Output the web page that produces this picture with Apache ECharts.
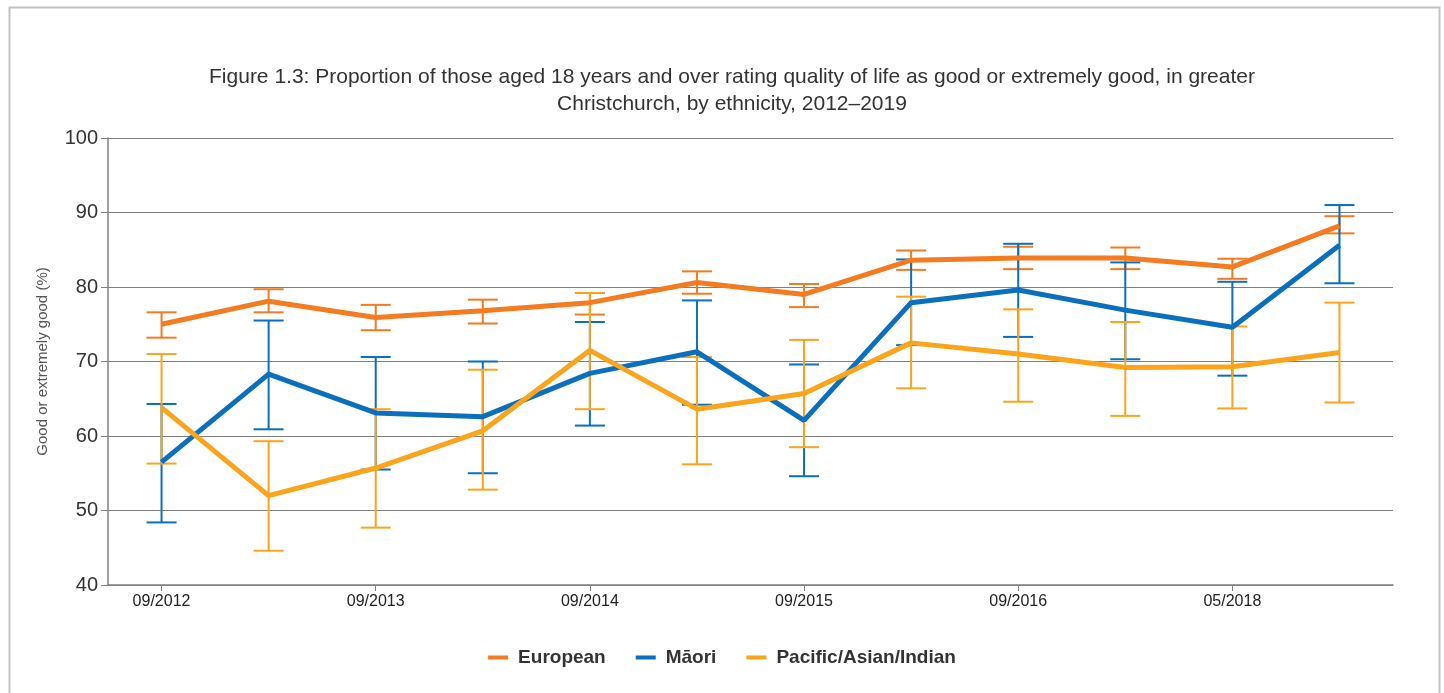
<!DOCTYPE html>
<html lang="en">
  <head>
    <meta charset="UTF-8" />
    <title>Quality of life by ethnicity</title>
    <script src="https://cdn.jsdelivr.net/npm/echarts@6/dist/echarts.min.js"></script>
    <style>
      body {
        margin: 0;
        padding: 0;
        background: #fff;
        font-family: "Liberation Sans", Arial, sans-serif;
      }
      #main {
        width: 1444px;
        height: 693px;
      }
    </style>
  </head>
  <body>
    <div id="main"></div>

    <script>
      // survey waves (only every other one is labelled on the axis)
      const waves = [
        "09/2012", "03/2013", "09/2013", "03/2014", "09/2014", "03/2015",
        "09/2015", "03/2016", "09/2016", "09/2017", "05/2018", "05/2019",
      ];

      const european = [75.0, 78.1, 75.9, 76.8, 77.9, 80.6, 79.0, 83.6, 83.9, 83.9, 82.7, 88.2];
      const europeanLow = [73.2, 76.6, 74.2, 75.1, 76.3, 79.1, 77.3, 82.3, 82.4, 82.4, 81.1, 87.2];
      const europeanHigh = [76.6, 79.7, 77.6, 78.3, 79.2, 82.1, 80.4, 84.9, 85.4, 85.3, 83.8, 89.5];

      const maori = [56.5, 68.3, 63.1, 62.6, 68.4, 71.3, 62.1, 77.9, 79.6, 76.9, 74.6, 85.6];
      const maoriLow = [48.4, 60.9, 55.5, 55.0, 61.4, 64.2, 54.6, 72.2, 73.3, 70.3, 68.1, 80.5];
      const maoriHigh = [64.3, 75.5, 70.6, 70.0, 75.3, 78.2, 69.6, 83.7, 85.8, 83.3, 80.7, 91.0];

      const pacific = [63.8, 52.0, 55.7, 60.7, 71.5, 63.6, 65.7, 72.5, 71.0, 69.2, 69.3, 71.2];
      const pacificLow = [56.3, 44.6, 47.7, 52.8, 63.6, 56.2, 58.5, 66.4, 64.6, 62.7, 63.7, 64.5];
      const pacificHigh = [71.0, 59.3, 63.6, 68.9, 79.2, 70.6, 72.9, 78.7, 77.0, 75.3, 74.7, 77.9];

      const colors = {
        European: "#f47b20",
        "Māori": "#0a6fbd",
        "Pacific/Asian/Indian": "#fca51c",
      };

      function errorData(low, high) {
        return low.map((l, i) => [i, l, high[i]]);
      }

      function errorSeries(name, low, high) {
        const color = colors[name];
        return {
          name: name,
          type: "custom",
          z: 2,
          silent: true,
          itemStyle: { color: color },
          data: errorData(low, high),
          renderItem: function (params, api) {
            const x = api.value(0);
            const lo = api.coord([x, api.value(1)]);
            const hi = api.coord([x, api.value(2)]);
            const half = 15;
            const style = { stroke: color, lineWidth: 2, fill: null };
            return {
              type: "group",
              children: [
                { type: "line", shape: { x1: lo[0], y1: lo[1], x2: hi[0], y2: hi[1] }, style: style },
                { type: "line", shape: { x1: lo[0] - half, y1: lo[1], x2: lo[0] + half, y2: lo[1] }, style: style },
                { type: "line", shape: { x1: hi[0] - half, y1: hi[1], x2: hi[0] + half, y2: hi[1] }, style: style },
              ],
            };
          },
        };
      }

      function lineSeries(name, values) {
        return {
          name: name,
          type: "line",
          z: 3,
          data: values,
          showSymbol: false,
          symbol: "none",
          itemStyle: { color: colors[name] },
          lineStyle: { width: 5, color: colors[name] },
        };
      }

      const myChart = echarts.init(document.getElementById("main"));
      const option = {
        animation: false,
        color: [colors.European, colors["Māori"], colors["Pacific/Asian/Indian"]],
        textStyle: { fontFamily: "Liberation Sans, Arial, sans-serif" },
        graphic: [
          {
            type: "rect",
            left: 7,
            top: 5,
            shape: { width: 1430, height: 720 },
            style: { fill: null, stroke: "#c3c3c3", lineWidth: 2 },
            silent: true,
          },
        ],
        title: {
          text:
            "Figure 1.3: Proportion of those aged 18 years and over rating quality of life as good or extremely good, in greater\nChristchurch, by ethnicity, 2012–2019",
          left: 727,
          textAlign: "center",
          top: 59,
          textStyle: {
            fontSize: 21,
            fontWeight: "normal",
            color: "#333",
            lineHeight: 27,
          },
        },
        legend: {
          data: ["European", "Māori", "Pacific/Asian/Indian"],
          left: 716,
          textAlign: "center",
          left: "center",
          top: 643,
          itemWidth: 20,
          itemHeight: 4,
          itemGap: 30,
          icon: "rect",
          textStyle: {
            fontSize: 19,
            fontWeight: "bold",
            color: "#333",
            padding: [0, 0, 0, 5],
          },
        },
        grid: { left: 108, right: 51, top: 138, bottom: 108 },
        xAxis: {
          type: "category",
          data: waves,
          boundaryGap: true,
          axisLine: { lineStyle: { color: "#808080", width: 1.5 } },
          axisTick: {
            show: true,
            interval: 1,
            alignWithLabel: true,
            length: 6,
            lineStyle: { color: "#808080" },
          },
          axisLabel: {
            interval: 1,
            fontSize: 16,
            color: "#222",
            margin: 9,
          },
          splitLine: { show: false },
        },
        yAxis: {
          type: "value",
          min: 40,
          max: 100,
          interval: 10,
          name: "Good or extremely good (%)",
          nameLocation: "middle",
          nameGap: 58,
          nameTextStyle: { fontSize: 15, color: "#555" },
          axisLine: { show: true, lineStyle: { color: "#808080", width: 1.5 } },
          axisTick: { show: true, length: 7, lineStyle: { color: "#808080" } },
          axisLabel: { fontSize: 20, color: "#333", margin: 10 },
          splitLine: { lineStyle: { color: "#808080", width: 1.2 } },
        },
        series: [
          errorSeries("European", europeanLow, europeanHigh),
          errorSeries("Māori", maoriLow, maoriHigh),
          errorSeries("Pacific/Asian/Indian", pacificLow, pacificHigh),
          lineSeries("European", european),
          lineSeries("Māori", maori),
          lineSeries("Pacific/Asian/Indian", pacific),
        ],
      };

      myChart.setOption(option);
    </script>
  </body>
</html>
